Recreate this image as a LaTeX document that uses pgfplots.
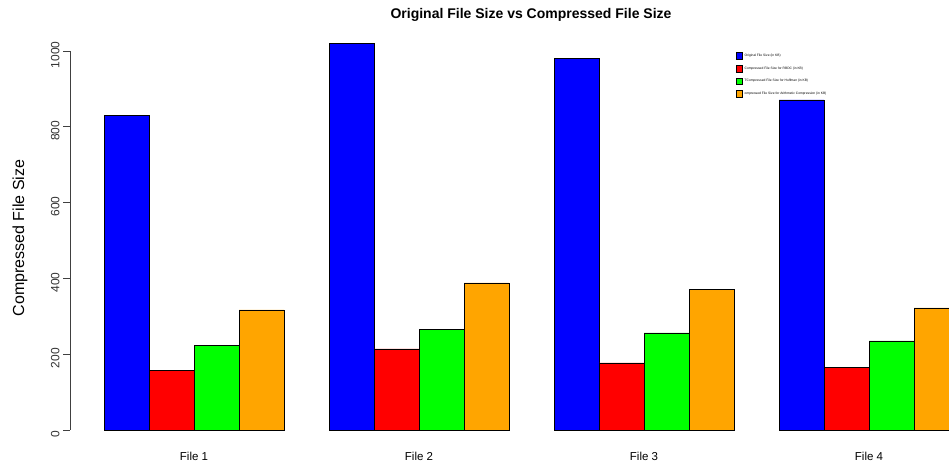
\documentclass[border=0pt]{standalone}
\usepackage{pgfplots}
\pgfplotsset{compat=1.18}
\usepackage{fontspec}
\setmainfont{Liberation Sans}

\definecolor{barblue}{RGB}{0,0,255}
\definecolor{barred}{RGB}{255,0,0}
\definecolor{bargreen}{RGB}{0,255,0}
\definecolor{barorange}{RGB}{255,165,0}

\begin{document}
\begin{tikzpicture}
\useasboundingbox (0,0) rectangle (949pt,465pt);
\clip (0,0) rectangle (949pt,465pt);

% title and y label
\node[font=\fontsize{14}{16}\selectfont\bfseries] at (531pt,450pt) {Original File Size vs Compressed File Size};
\node[font=\fontsize{16}{18}\selectfont, rotate=90] at (20pt,227pt) {Compressed File Size};

\begin{axis}[
  at={(70pt,35pt)}, anchor=origin,
  x=45pt, y=0.379pt,
  xmin=0.2444, xmax=19.78,
  ymin=0, ymax=1000,
  clip=false,
  axis y line*=left,
  axis x line*=bottom,
  x axis line style={draw=none},
  y axis line style={draw=black!75, line width=0.6pt},
  xtick={3,8,13,18},
  xticklabels={File 1,File 2,File 3,File 4},
  xtick style={draw=none},
  xticklabel style={font=\fontsize{11.5}{13}\selectfont, yshift=-12pt},
  ytick={0,200,400,600,800,1000},
  ytick style={draw=black!75, line width=0.6pt},
  tick align=outside,
  major tick length=7pt,
  yticklabel style={font=\fontsize{12}{14}\selectfont, text=black!80, rotate=90, anchor=south, xshift=-4pt},
  /pgf/number format/assume math mode=true,
  /pgf/number format/1000 sep={},
  ybar, bar width=45pt, bar shift=0pt,
  every axis plot/.append style={draw=black, line width=0.5pt},
  legend style={at={(0.7577,0.9976)}, anchor=north west, draw=none, fill=none,
    font=\fontsize{3.3}{4}\selectfont, row sep=4.8pt, inner sep=0pt,
    cells={anchor=west}},
  legend image code/.code={\draw[#1, line width=0.4pt] (0pt,-3pt) rectangle (6pt,3.5pt);},
]
\addplot[fill=barblue] coordinates {(1.5,830) (6.5,1021) (11.5,981) (16.5,871)};
\addplot[fill=barred] coordinates {(2.5,158) (7.5,214) (12.5,177) (17.5,166)};
\addplot[fill=bargreen] coordinates {(3.5,224) (8.5,266) (13.5,256) (18.5,235)};
\addplot[fill=barorange] coordinates {(4.5,317) (9.5,388) (14.5,372) (19.5,322)};
\legend{Original File Size (in KB),
  Compressed File Size for RBDC (in KB),
  TCompressed File Size for Huffman (in KB),
  ompressed File Size for Arithmetic Compression (in KB)}
\end{axis}
\end{tikzpicture}
\end{document}
